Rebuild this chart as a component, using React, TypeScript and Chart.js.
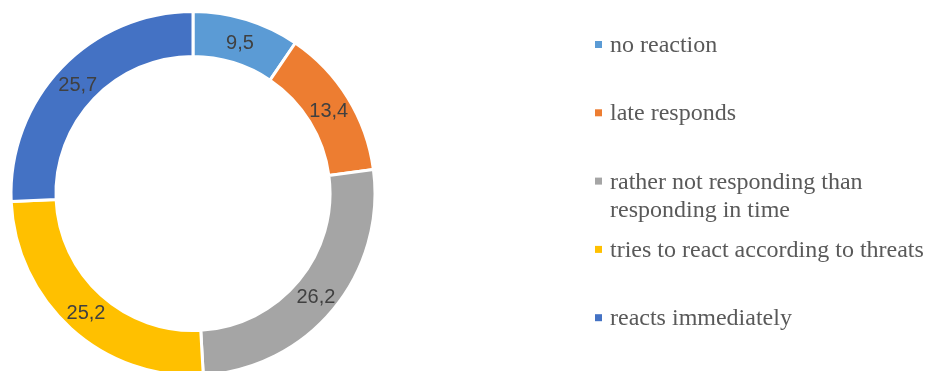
import React, { useEffect, useRef } from "react";
import { Chart, registerables } from "chart.js";

Chart.register(...registerables);

const categories: string[][] = [
  ["no reaction"],
  ["late responds"],
  ["rather not responding than", "responding in time"],
  ["tries to react according to threats"],
  ["reacts immediately"],
];
const values: number[] = [9.5, 13.4, 26.2, 25.2, 25.7];
const valueLabels: string[] = ["9,5", "13,4", "26,2", "25,2", "25,7"];
const colors: string[] = ["#5B9BD5", "#ED7D31", "#A5A5A5", "#FFC000", "#4472C4"];

const overlayPlugin = {
  id: "overlay",
  afterDatasetsDraw(chart: any) {
    const ctx = chart.ctx as CanvasRenderingContext2D;
    const meta = chart.getDatasetMeta(0);
    ctx.save();
    // data labels
    ctx.font = "20px 'Liberation Sans', Arial, sans-serif";
    ctx.fillStyle = "#404040";
    ctx.textAlign = "center";
    ctx.textBaseline = "middle";
    meta.data.forEach((arc: any, i: number) => {
      const p = arc.getCenterPoint();
      ctx.fillText(valueLabels[i], p.x, p.y + 2);
    });
    // legend
    const legX = 595;
    const firstY = 52;
    const step = 68.3;
    const lineH = 28;
    ctx.textAlign = "left";
    ctx.textBaseline = "alphabetic";
    ctx.font = "24px 'Liberation Serif', 'Times New Roman', serif";
    categories.forEach((lines, i) => {
      const y = firstY + step * i;
      ctx.fillStyle = colors[i];
      ctx.fillRect(legX, y - 11, 7, 7);
      ctx.fillStyle = "#595959";
      lines.forEach((ln, j) => {
        ctx.fillText(ln, legX + 15, y + j * lineH);
      });
    });
    ctx.restore();
  },
};

export default function App() {
  const ref = useRef<HTMLCanvasElement | null>(null);
  useEffect(() => {
    document.body.style.margin = "0";
    if (!ref.current) return;
    const chart = new Chart(ref.current, {
      type: "doughnut",
      data: {
        labels: categories.map((c) => c.join(" ")),
        datasets: [
          {
            data: values,
            backgroundColor: colors,
            borderColor: "#FFFFFF",
            borderWidth: 3,
          },
        ],
      },
      options: {
        responsive: false,
        animation: false,
        devicePixelRatio: 1,
        radius: 182,
        cutout: "75.3%",
        layout: { padding: { left: 0, right: 542, top: 16, bottom: 0 } },
        plugins: {
          legend: { display: false },
          tooltip: { enabled: false },
        },
      },
      plugins: [overlayPlugin],
    });
    return () => chart.destroy();
  }, []);
  return (
    <div style={{ position: "fixed", left: 0, top: 0, width: 928, height: 371, overflow: "hidden", background: "#fff" }}>
      <canvas ref={ref} width={928} height={371} />
    </div>
  );
}
